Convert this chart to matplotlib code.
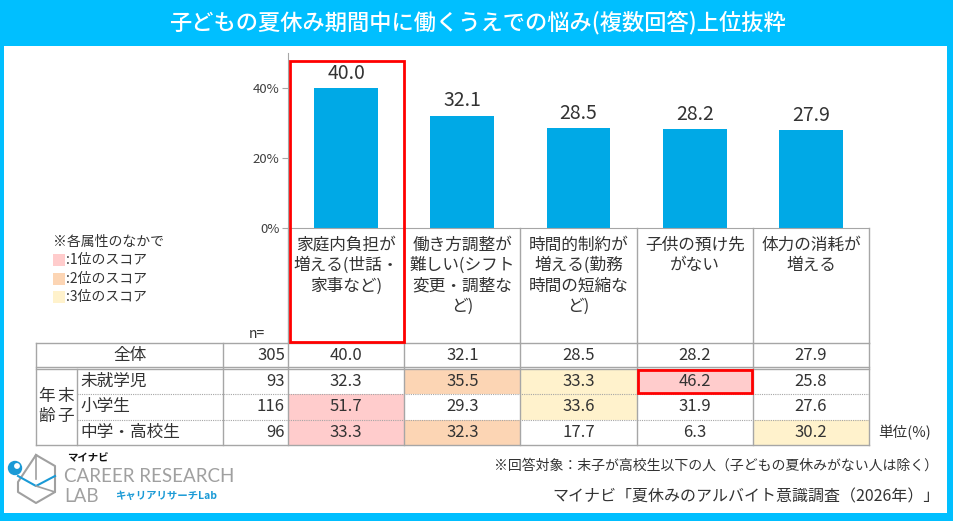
import numpy as np
import matplotlib.pyplot as plt
from matplotlib.patches import Rectangle, Circle

plt.rcParams['font.family'] = ['Noto Sans CJK JP', 'DejaVu Sans']

# ---- data ----
title = '子どもの夏休み期間中に働くうえでの悩み(複数回答)上位抜粋'
categories = ['家庭内負担が\n増える(世話・\n家事など)',
              '働き方調整が\n難しい(シフト\n変更・調整な\nど)',
              '時間的制約が\n増える(勤務\n時間の短縮な\nど)',
              '子供の預け先\nがない',
              '体力の消耗が\n増える']
overall = [40.0, 32.1, 28.5, 28.2, 27.9]
n_overall = 305
segments = ['未就学児', '小学生', '中学・高校生']
n_segments = [93, 116, 96]
seg_values = [[32.3, 35.5, 33.3, 46.2, 25.8],
              [51.7, 29.3, 33.6, 31.9, 27.6],
              [33.3, 32.3, 17.7, 6.3, 30.2]]
# shading shown in the table (0 = none, 1/2/3 = rank colour)
seg_shade = [[0, 2, 3, 1, 0],
             [1, 0, 3, 0, 0],
             [1, 2, 0, 0, 3]]
legend_labels = [':1位のスコア', ':2位のスコア', ':3位のスコア']
note = '※回答対象：末子が高校生以下の人（子どもの夏休みがない人は除く）'
source = 'マイナビ「夏休みのアルバイト意識調査（2026年）」'

# ---- styles ----
blue_frame = '#00BFFF'
bar_color = '#00A9E6'
grid_gray = '#A6A6A6'
txt = '#333333'
shade_colors = {1: '#FFCCCC', 2: '#FCD5B4', 3: '#FFF2CC'}

W, H = 954, 521
fig = plt.figure(figsize=(W / 100, H / 100), dpi=100)

# pixel layout of the chart block
x0, colw = 288, 116.2
y_base, y_top = 228, 53

ax = fig.add_axes([x0 / W, 1 - y_base / H, 5 * colw / W, (y_base - y_top) / H])
xs = np.arange(len(overall))
ax.bar(xs, overall, width=0.55, color=bar_color)
for i, v in enumerate(overall):
    ax.annotate(f'{v:.1f}', (i, v), xytext=(0, 3), textcoords='offset points',
                ha='center', va='bottom', fontsize=14, color=txt)
ax.set_xlim(-0.5, 4.5)
ax.set_ylim(0, 50)
ax.set_yticks([0, 20, 40])
ax.set_yticklabels(['0%', '20%', '40%'])
ax.tick_params(axis='y', length=4, color=grid_gray, labelsize=9.5,
               labelcolor='#404040', pad=2)
ax.set_xticks([])
for s in ['top', 'right']:
    ax.spines[s].set_visible(False)
ax.spines['left'].set_color(grid_gray)
ax.spines['bottom'].set_color(grid_gray)

# overlay in pixel coordinates for frame, labels and table
ov = fig.add_axes([0, 0, 1, 1])
ov.set_xlim(0, W)
ov.set_ylim(H, 0)
ov.axis('off')

# frame and title bar
ov.add_patch(Rectangle((0, 0), W, 46, color=blue_frame, lw=0))
ov.add_patch(Rectangle((0, 0), 4, H, color=blue_frame, lw=0))
ov.add_patch(Rectangle((947, 0), 7, H, color=blue_frame, lw=0))
ov.add_patch(Rectangle((0, 513), W, 8, color=blue_frame, lw=0))
ov.text(W / 2, 23, title, color='white', fontsize=16, ha='center', va='center',
        fontweight='medium')

# category label cells
col_edges = [x0 + i * colw for i in range(6)]
for xe in col_edges:
    ov.plot([xe, xe], [y_base, 343], color=grid_gray, lw=1)
for i, lab in enumerate(categories):
    cx = x0 + (i + 0.5) * colw
    for j, line in enumerate(lab.split('\n')):
        ov.text(cx, 245 + j * 20.5, line, ha='center', va='center',
                fontsize=12, color=txt)

# red highlight around first category
ov.add_patch(Rectangle((290.5, 60.5), 113.5, 281, fill=False, ec='#FF0000', lw=2, zorder=5))
ov.text(265, 334, 'n=', ha='right', va='center', fontsize=10, color=txt)

# legend
ov.text(53, 242, '※各属性のなかで', ha='left', va='center', fontsize=10, color=txt)
for k, lab in enumerate(legend_labels):
    yc = 260 + k * 18.5
    ov.add_patch(Rectangle((53, yc - 6), 12, 12, color=shade_colors[k + 1], lw=0))
    ov.text(66, yc, lab, ha='left', va='center', fontsize=10, color=txt)

# table
row_tops = [343, 369, 393.5, 419.5]
row_bots = [368, 393.5, 419.5, 445]
for r, shades in enumerate(seg_shade):
    for c, sh in enumerate(shades):
        if sh:
            ov.add_patch(Rectangle((col_edges[c], row_tops[r + 1]), colw,
                                   row_bots[r + 1] - row_tops[r + 1],
                                   color=shade_colors[sh], lw=0, zorder=1))

lkw = dict(color=grid_gray, lw=1, zorder=2)
ov.plot([36, 869], [343, 343], **lkw)
ov.plot([36, 869], [366.5, 366.5], **lkw)
ov.plot([36, 869], [369, 369], **lkw)
ov.plot([77, 869], [393.5, 393.5], color=grid_gray, lw=0.8, ls=(0, (1, 1)), zorder=2)
ov.plot([77, 869], [419.5, 419.5], color=grid_gray, lw=0.8, ls=(0, (1, 1)), zorder=2)
ov.plot([36, 869], [445, 445], **lkw)
for xe in [36, 223] + col_edges:
    ov.plot([xe, xe], [343, 445], **lkw)
ov.plot([77, 77], [369, 445], **lkw)

ov.text(130, 355.5, '全体', ha='center', va='center', fontsize=12, color=txt)
ov.text(285, 355.5, str(n_overall), ha='right', va='center', fontsize=12, color=txt)
for c, v in enumerate(overall):
    ov.text(x0 + (c + 0.5) * colw, 355.5, f'{v:.1f}', ha='center', va='center',
            fontsize=12, color=txt)

for ch, (cx, cy) in zip('末子年齢', [(66, 397), (66, 416), (47, 397), (47, 416)]):
    ov.text(cx, cy, ch, ha='center', va='center', fontsize=12, color=txt)

for r, name in enumerate(segments):
    yc = (row_tops[r + 1] + row_bots[r + 1]) / 2
    ov.text(80, yc, name, ha='left', va='center', fontsize=12, color=txt)
    ov.text(285, yc, str(n_segments[r]), ha='right', va='center', fontsize=12, color=txt)
    for c, v in enumerate(seg_values[r]):
        ov.text(x0 + (c + 0.5) * colw, yc, f'{v:.1f}', ha='center', va='center',
                fontsize=12, color=txt, zorder=3)

# red box around the 46.2 cell
ov.add_patch(Rectangle((col_edges[3] + 1, 370), colw - 2, 23, fill=False,
                       ec='#FF0000', lw=2, zorder=5))

ov.text(878, 433, '単位(%)', ha='left', va='center', fontsize=10.5, color=txt)
ov.text(938, 466, note, ha='right', va='center', fontsize=10, color=txt)
ov.text(940, 497, source, ha='right', va='center', fontsize=11.5, color=txt)

# logo
logo_gray = '#A0A0A0'
logo_blue = '#1A9AD6'
hx = [36, 55, 55, 36, 18, 18]
hy = [455, 466, 492, 503, 492, 482]
ov.plot(hx + [hx[0]], hy + [hy[0]], color=logo_gray, lw=1.5)
ov.plot([36, 36], [455, 479], color=logo_gray, lw=1.2)
ov.plot([18, 36, 55], [476, 486, 476], color=logo_blue, lw=1.5)
ov.plot([36, 55], [486, 492], color=logo_gray, lw=1.2)
ov.add_patch(Circle((15, 468), 6.5, color=logo_blue, zorder=4))
ov.add_patch(Circle((17, 466), 2.2, color='white', zorder=5))
ov.text(67, 458, 'マイナビ', ha='left', va='center', fontsize=7.5,
        fontweight='bold', color='#111111')
ov.text(64, 476, 'CAREER RESEARCH', ha='left', va='center', fontsize=13.5,
        color=logo_gray, family=['Lato', 'DejaVu Sans'])
ov.text(64, 496, 'LAB', ha='left', va='center', fontsize=13.5,
        color=logo_gray, family=['Lato', 'DejaVu Sans'])
ov.text(115, 496, 'キャリアリサーチLab', ha='left', va='center', fontsize=7.5,
        fontweight='bold', color=logo_blue)

fig.savefig('out.png', dpi=100)
